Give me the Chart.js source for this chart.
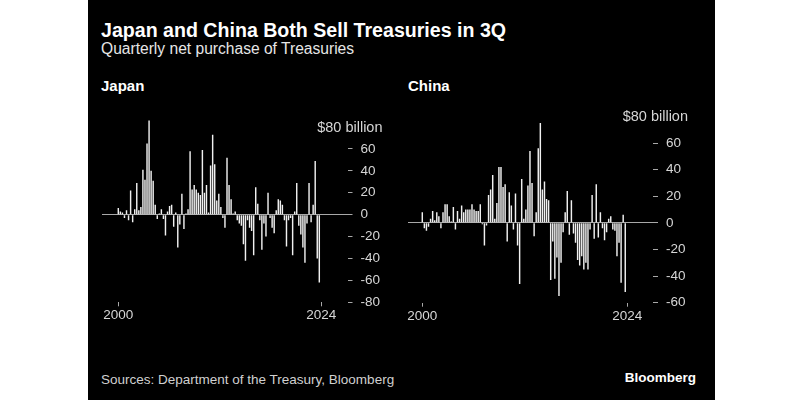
<!DOCTYPE html>
<html>
<head>
<meta charset="utf-8">
<script src="https://cdn.jsdelivr.net/npm/chart.js@4.4.1/dist/chart.umd.min.js"></script>
<style>
  body { margin: 0; background: #fff; width: 800px; height: 400px; position: relative; overflow: hidden;
         font-family: "Liberation Sans", Arial, sans-serif; }
  #panel { position: absolute; left: 88px; top: 0; width: 627px; height: 400px; background: #000; }
  .txt { position: absolute; white-space: nowrap; color: #fff; }
  canvas { position: absolute; }
</style>
</head>
<body>
<div id="panel"></div>
<div class="txt" style="left:101px; top:19px; font-size:19.6px; font-weight:bold; line-height:22px;">Japan and China Both Sell Treasuries in 3Q</div>
<div class="txt" style="left:101px; top:39px; font-size:15.6px; line-height:19px; color:#e6e6e6;">Quarterly net purchase of Treasuries</div>
<div class="txt" style="left:101px; top:77px; font-size:15px; font-weight:bold; line-height:18px;">Japan</div>
<div class="txt" style="left:408px; top:77px; font-size:15px; font-weight:bold; line-height:18px;">China</div>
<div class="txt" style="left:101px; top:372px; font-size:13.5px; line-height:16px; color:#d0d0d0;">Sources: Department of the Treasury, Bloomberg</div>
<div class="txt" style="right:104px; top:370px; font-size:13.5px; font-weight:bold; line-height:16px;">Bloomberg</div>

<canvas id="japanChart" width="305" height="230" style="left:95px; top:100px;"></canvas>
<canvas id="chinaChart" width="320" height="230" style="left:400px; top:100px;"></canvas>

<script>
// Quarterly net purchase of Treasuries, $ billion, 2000 Q1 .. 2024 Q3
const japanValues = [
    6, 3, 2, -3, 4, -5, 22, -7, 5, 29, 4, 7, 41, 32, 65, 86,
    40, 31, 9, -4, 1, 5, -4, -19, 3, 8, 9, -11, 2, -30, -9, 19,
    -13, 1, 5, 58, 23, 27, 23, 20, 18, 59, 20, 27, 2, 45, 73, 46,
    13, 19, 7, -3, -12, 52, 27, 14, 1, 3, -5, -8, -10, -27, -42, -5,
    -12, -15, -37, 25, 10, -5, -32, -8, -20, 20, -3, -12, -17, 4, 14, 13,
    9, -5, -29, -5, -3, -37, 3, 29, -10, -18, -30, -44, -8, 29, -7, 9,
    49, -40, -62
];

const chinaValues = [
    8, -4, -6, -3, 3, 9, 2, 8, 5, -4, 8, 14, 14, 5, 1, 12,
    -5, 9, 3, 13, 8, 10, 10, 10, 14, 10, 9, 9, 14, -1, -17, -2,
    21, 25, 36, 3, 15, 42, 42, 27, 29, -14, 23, 13, -5, 22, -17, -46,
    33, 3, 10, 28, 54, 30, -10, 8, 56, 75, 25, 31, 18, 17, -43, -14,
    -42, -26, -55, -30, -7, 8, 24, -9, 17, -8, -15, -28, -32, -25, -35, -30,
    -35, -5, 21, -12, 29, -11, 8, -4, -13, -7, 3, 5, -5, -6, -25, -15,
    -45, 6, -52
];

// x axis: quarter index, ticks only at the two ends
const xTickPositions = [0, 99];
const xTickLabels = ['2000', '2024'];

// y axis ticks for each panel
const japanTicks = [-80, -60, -40, -20, 0, 20, 40, 60, 80];
const chinaTicks = [-60, -40, -20, 0, 20, 40, 60, 80];
const unitLabel = '$80 billion';

const FONT = '"Liberation Sans", Arial, sans-serif';
const textColor = '#d6d6d6';
const lineColor = '#a8a8a8';

// draws the "$80 billion" label in place of the top tick
const unitLabelPlugin = {
    id: 'unitLabel',
    afterDraw(chart) {
        const ctx = chart.ctx;
        const y = chart.scales.y.getPixelForValue(80);
        ctx.save();
        ctx.font = '14.5px ' + FONT;
        ctx.fillStyle = textColor;
        ctx.textAlign = 'right';
        ctx.textBaseline = 'middle';
        ctx.fillText(unitLabel, chart.chartArea.right + 35, y + 1);
        ctx.restore();
    }
};

function makeChart(id, values, yTicks, opts) {
    const ctx = document.getElementById(id).getContext('2d');
    return new Chart(ctx, {
        type: 'bar',
        data: {
            datasets: [{
                data: values.map((v, i) => ({x: i, y: v})),
                backgroundColor: '#f0f0f0',
                borderWidth: 0,
                barPercentage: 0.7,
                categoryPercentage: 1.0
            }]
        },
        options: {
            responsive: false,
            animation: false,
            layout: { padding: { left: opts.padLeft, top: opts.padTop, right: 0, bottom: 0 } },
            plugins: { legend: { display: false }, tooltip: { enabled: false } },
            scales: {
                x: {
                    type: 'linear',
                    min: opts.xMin,
                    max: opts.xMax,
                    offset: false,
                    afterBuildTicks: scale => { scale.ticks = xTickPositions.map(v => ({value: v})); },
                    afterFit: scale => { scale.height = opts.xAxisH; },
                    ticks: {
                        color: textColor,
                        font: { family: FONT, size: 13.5 },
                        padding: 1,
                        maxRotation: 0,
                        autoSkip: false,
                        callback: (v, i) => xTickLabels[i]
                    },
                    grid: { offset: false, drawOnChartArea: false, tickLength: 4, tickColor: lineColor },
                    border: { display: false }
                },
                y: {
                    position: 'right',
                    min: opts.yMin,
                    max: opts.yMax,
                    afterBuildTicks: scale => { scale.ticks = yTicks.map(v => ({value: v})); },
                    afterFit: scale => { scale.width = opts.yAxisW; },
                    ticks: {
                        color: textColor,
                        font: { family: FONT, size: 13.5 },
                        padding: 8,
                        callback: v => (v === 80 ? '' : String(v))
                    },
                    grid: {
                        color: c => (c.tick && c.tick.value === 0 ? lineColor : 'transparent'),
                        tickColor: c => (c.tick && c.tick.value === 80 ? 'transparent' : lineColor),
                        tickLength: 5
                    },
                    border: { display: false }
                }
            }
        },
        plugins: [unitLabelPlugin]
    });
}

makeChart('japanChart', japanValues, japanTicks, {
    yMin: -80, yMax: 90, xMin: -7.95, xMax: 111.75,
    padLeft: 7, padTop: 14.3, xAxisH: 27.7, yAxisW: 52.5
});

makeChart('chinaChart', chinaValues, chinaTicks, {
    yMin: -60, yMax: 80, xMin: -6.9, xMax: 111.4,
    padLeft: 8, padTop: 16.4, xAxisH: 27.3, yAxisW: 67
});
</script>
</body>
</html>
